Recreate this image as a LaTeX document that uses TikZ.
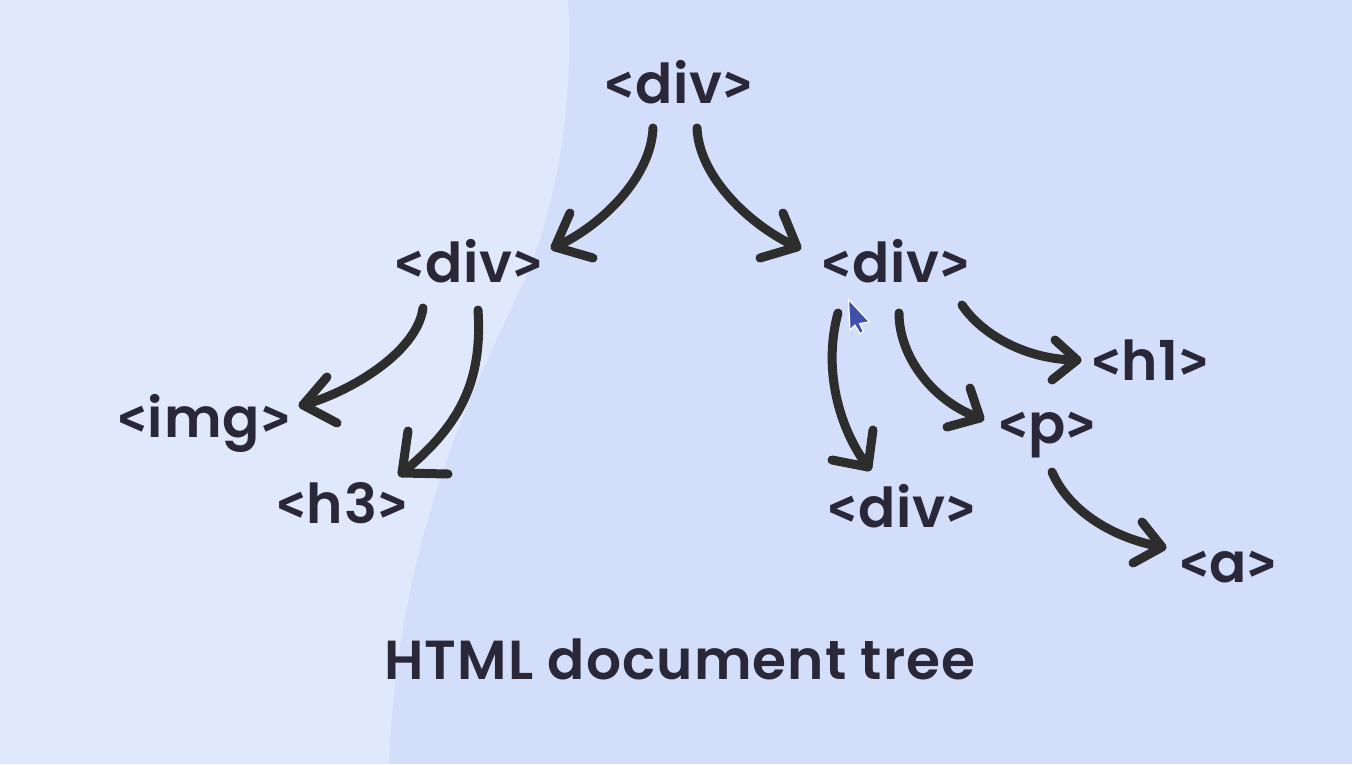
\documentclass[tikz,border=0pt]{standalone}
\usepackage{fontspec}
\setmainfont{Poppins}
\IfFontExistsTF{Poppins SemiBold}
  {\newfontfamily\labelfont{Poppins SemiBold}[LetterSpace=2]}
  {\newfontfamily\labelfont{Poppins}[UprightFont={* Bold}, LetterSpace=2]}
\IfFontExistsTF{Fira Sans SemiBold}
  {\newfontfamily\chevfont{Fira Sans SemiBold}}
  {\newfontfamily\chevfont{Fira Sans}[UprightFont={* Bold}]}
\newcommand\tg[1]{{\chevfont<\kern1pt}#1{\chevfont\kern1pt>}}
\definecolor{bgR}{RGB}{211,222,250}
\definecolor{bgL}{RGB}{224,233,252}
\definecolor{ink}{RGB}{42,39,56}
\definecolor{arrowc}{RGB}{45,45,45}
\definecolor{cursorc}{RGB}{62,80,170}
\begin{document}
\begin{tikzpicture}[x=1pt,y=-1pt,
  tag/.style={anchor=base, inner sep=0pt, text=ink, font=\labelfont\fontsize{55}{60}\selectfont},
  titlestyle/.style={anchor=base, inner sep=0pt, text=ink, font=\labelfont\fontsize{55}{60}\selectfont},
  conn/.style={draw=arrowc, line width=9pt, line cap=round, line join=round},
]
\fill[bgR] (0,0) rectangle (1352,764);
\fill[bgL] (0,0) -- (568,0) .. controls (574,110) and (555,215) .. (520,290)
  .. controls (470,395) and (398,540) .. (389,764) -- (0,764) -- cycle;
\useasboundingbox (0,0) rectangle (1352,764);

\node[tag] (root) at (679,103) {\tg{div}};
\node[tag] (ldiv) at (469,282) {\tg{div}};
\node[tag] (rdiv) at (896,282) {\tg{div}};
\node[tag] (img)  at (204,437) {\tg{img}};
\node[tag] (h3)   at (342,523) {\tg{h3}};
\node[tag] (bdiv) at (902,527) {\tg{div}};
\node[tag] (h1)   at (1150,380) {\tg{h1}};
\node[tag] (p)    at (1047,443) {\tg{p}};
\node[tag] (a)    at (1228,582) {\tg{a}};
\node[titlestyle] (title) at (680,679) {HTML document tree};

% root -> left div
\coordinate (s1) at ([shift={(-26,25)}]root.base);
\coordinate (e1) at ([shift={(86,-35)}]ldiv.base);
\draw[conn] (s1) .. controls +(-2,50) and +(45,-20) .. (e1);
\draw[conn] ([shift={(15,-34)}]e1) -- (e1) -- ([shift={(38,11)}]e1);
% root -> right div
\coordinate (s2) at ([shift={(18,25)}]root.base);
\coordinate (e2) at ([shift={(-99,-35)}]rdiv.base);
\draw[conn] (s2) .. controls +(2,50) and +(-45,-20) .. (e2);
\draw[conn] ([shift={(-14,-34)}]e2) -- (e2) -- ([shift={(-37,11)}]e2);
% left div -> img
\coordinate (s3) at ([shift={(-46,26)}]ldiv.base);
\coordinate (e3) at ([shift={(99,-32)}]img.base);
\draw[conn] (s3) .. controls +(-6,45) and +(45,-12) .. (e3);
\draw[conn] ([shift={(24,-28)}]e3) -- (e3) -- ([shift={(34,18)}]e3);
% left div -> h3
\coordinate (s4) at ([shift={(9,28)}]ldiv.base);
\coordinate (e4) at ([shift={(60,-50)}]h3.base);
\draw[conn] (s4) .. controls +(5,75) and +(55,-45) .. (e4);
\draw[conn] ([shift={(6,-42)}]e4) -- (e4) -- ([shift={(46,1)}]e4);
% right div -> bottom div
\coordinate (s5) at ([shift={(-58,31)}]rdiv.base);
\coordinate (e5) at ([shift={(-34,-60)}]bdiv.base);
\draw[conn] (s5) .. controls +(-15,55) and +(-30,-40) .. (e5);
\draw[conn] ([shift={(5,-37)}]e5) -- (e5) -- ([shift={(-36,-7)}]e5);
% right div -> p
\coordinate (s6) at ([shift={(3,31)}]rdiv.base);
\coordinate (e6) at ([shift={(-67,-25)}]p.base);
\draw[conn] (s6) .. controls +(0,45) and +(-45,-15) .. (e6);
\draw[conn] ([shift={(-10,-30)}]e6) -- (e6) -- ([shift={(-33,9)}]e6);
% right div -> h1
\coordinate (s7) at ([shift={(66,23)}]rdiv.base);
\coordinate (e7) at ([shift={(-73,-20)}]h1.base);
\draw[conn] (s7) .. controls +(20,30) and +(-50,0) .. (e7);
\draw[conn] ([shift={(-22,-20)}]e7) -- (e7) -- ([shift={(-25,20)}]e7);
% p -> a
\coordinate (s8) at ([shift={(5,29)}]p.base);
\coordinate (e8) at ([shift={(-66,-35)}]a.base);
\draw[conn] (s8) .. controls +(15,35) and +(-55,-10) .. (e8);
\draw[conn] ([shift={(-20,-25)}]e8) -- (e8) -- ([shift={(-29,16)}]e8);

% mouse cursor
\filldraw[fill=cursorc, draw=white, line width=1.2pt, line join=round]
  (848.5,299.5) -- (850,330) -- (855,325) -- (860,333.5) -- (863.5,331.5)
  -- (859.5,323.5) -- (869.5,322) -- cycle;
\end{tikzpicture}
\end{document}
